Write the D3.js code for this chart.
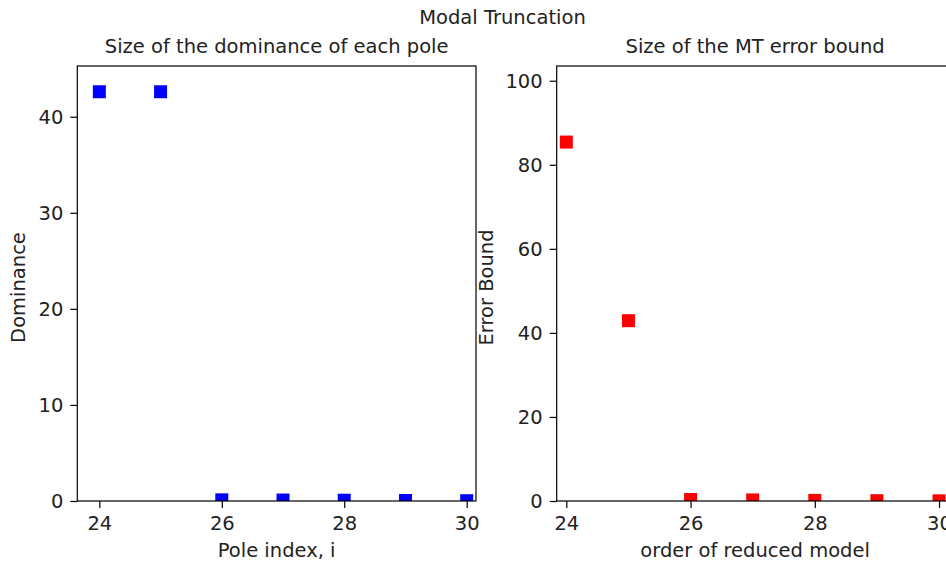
<!DOCTYPE html>
<html>
<head>
<meta charset="utf-8">
<script src="https://cdn.jsdelivr.net/npm/d3@7"></script>
<style>
  html, body { margin: 0; padding: 0; background: #fff; }
  svg { display: block; }
  text { font-family: "DejaVu Sans", sans-serif; fill: #222; }
</style>
</head>
<body>
<svg id="chart" width="946" height="563"></svg>
<script>
// Pole indices / reduced-model orders
const poleIndex = [24, 25, 26, 27, 28, 29, 30];
// Dominance of each pole
const dominance = [42.6, 42.6, 0.12, 0.1, 0.08, 0.05, 0.03];
// Modal truncation error bound per reduced order
const errorBound = [85.4, 42.9, 0.35, 0.25, 0.15, 0.08, 0.03];

const xTicks = [24, 26, 28, 30];
const domTicks = [0, 10, 20, 30, 40];
const errTicks = [0, 20, 40, 60, 80, 100];

const svg = d3.select("#chart");
const FONT = 19.5;

svg.append("text")
  .attr("x", 502.5).attr("y", 24.3)
  .attr("text-anchor", "middle")
  .style("font-size", FONT + "px")
  .text("Modal Truncation");

function panel(cfg) {
  const { left, right, top, bottom } = cfg.box;
  const x = d3.scaleLinear().domain(cfg.xDomain).range([left, right]);
  const y = d3.scaleLinear().domain(cfg.yDomain).range([bottom, top]);
  const g = svg.append("g");

  const clipId = "clip-" + cfg.id;
  svg.append("defs").append("clipPath").attr("id", clipId)
    .append("rect").attr("x", left).attr("y", top)
    .attr("width", right - left).attr("height", bottom - top);

  // square markers, clipped to the plotting area
  const s = 13;
  g.append("g").attr("clip-path", `url(#${clipId})`)
    .selectAll("rect").data(cfg.values).join("rect")
    .attr("x", (d, i) => x(poleIndex[i]) - s / 2)
    .attr("y", d => y(d) - s / 2)
    .attr("width", s).attr("height", s)
    .attr("fill", cfg.color);

  // axes
  const fmt = d3.format("d");
  const xAxis = d3.axisBottom(x).tickValues(xTicks).tickFormat(fmt)
    .tickSize(7).tickPadding(6).tickSizeOuter(0);
  const yAxis = d3.axisLeft(y).tickValues(cfg.yTicks).tickFormat(fmt)
    .tickSize(7).tickPadding(6).tickSizeOuter(0);
  const gx = g.append("g").attr("transform", `translate(0,${bottom})`).call(xAxis);
  const gy = g.append("g").attr("transform", `translate(${left},0)`).call(yAxis);
  [gx, gy].forEach(a => {
    a.select(".domain").remove();
    a.selectAll("line").attr("stroke", "#000").attr("stroke-width", 1.2);
    a.selectAll("text").style("font-size", FONT + "px")
      .style("font-family", '"DejaVu Sans", sans-serif').attr("fill", "#222");
  });
  gx.selectAll("text").attr("dy", null).attr("y", 29);
  gy.selectAll("text").attr("dy", "0.35em").attr("x", -14);

  // frame
  g.append("rect")
    .attr("x", left).attr("y", top)
    .attr("width", right - left).attr("height", bottom - top)
    .attr("fill", "none").attr("stroke", "#000").attr("stroke-width", 1.2);

  // titles and labels
  g.append("text")
    .attr("x", (left + right) / 2).attr("y", 52.5)
    .attr("text-anchor", "middle").style("font-size", FONT + "px")
    .text(cfg.title);
  g.append("text")
    .attr("x", (left + right) / 2).attr("y", 557)
    .attr("text-anchor", "middle").style("font-size", FONT + "px")
    .text(cfg.xLabel);
  g.append("text")
    .attr("transform", `translate(${cfg.yLabelX},287.5) rotate(-90)`)
    .attr("text-anchor", "middle").style("font-size", FONT + "px")
    .text(cfg.yLabel);
}

panel({
  id: "dom",
  box: { left: 77.3, right: 476, top: 66, bottom: 501 },
  xDomain: [23.64, 30.152],
  yDomain: [0, 45.28],
  yTicks: domTicks,
  values: dominance,
  color: "#0000ff",
  title: "Size of the dominance of each pole",
  xLabel: "Pole index, i",
  yLabel: "Dominance",
  yLabelX: 25
});

panel({
  id: "err",
  box: { left: 556.7, right: 953.5, top: 66, bottom: 501 },
  xDomain: [23.845, 30.233],
  yDomain: [0, 103.5],
  yTicks: errTicks,
  values: errorBound,
  color: "#ff0000",
  title: "Size of the MT error bound",
  xLabel: "order of reduced model",
  yLabel: "Error Bound",
  yLabelX: 493
});
</script>
</body>
</html>
